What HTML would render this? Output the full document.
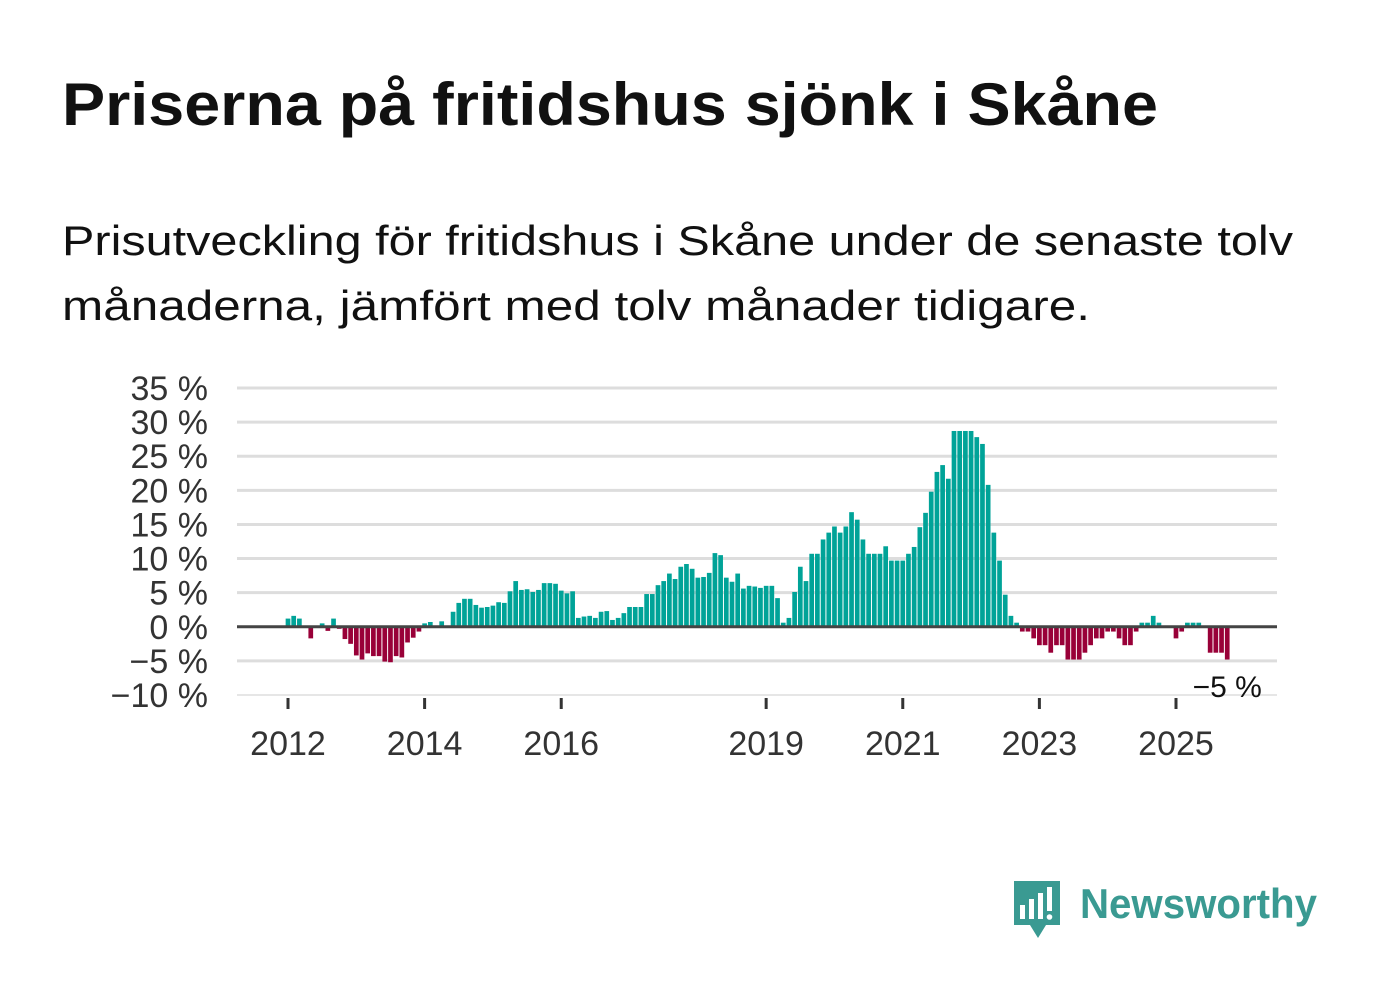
<!DOCTYPE html>
<html><head><meta charset="utf-8"><style>
html,body{margin:0;padding:0;background:#fff;}
svg{display:block;font-family:"Liberation Sans","Noto Sans CJK SC",sans-serif;}
</style></head><body>
<svg id="chart" width="1382" height="999" viewBox="0 0 1382 999" xmlns="http://www.w3.org/2000/svg">
<text x="62" y="125" font-size="60" font-weight="bold" fill="#111" textLength="1096" lengthAdjust="spacingAndGlyphs">Priserna på fritidshus sjönk i Skåne</text>
<text x="62" y="255" font-size="42" fill="#111" textLength="1231" lengthAdjust="spacingAndGlyphs">Prisutveckling för fritidshus i Skåne under de senaste tolv</text>
<text x="62" y="320" font-size="42" fill="#111" textLength="1028" lengthAdjust="spacingAndGlyphs">månaderna, jämfört med tolv månader tidigare.</text>
<g id="grid"></g>
<g id="bars"></g>
<g id="axes"></g>
<g>
<path d="M1014 881 h46 v44 h-14 l-8 13 l-8 -13 h-16 z" fill="#3a9a92"/>
<rect x="1020" y="905" width="5" height="14" fill="#fff"/>
<rect x="1029" y="899" width="5" height="20" fill="#fff"/>
<rect x="1038" y="893" width="5" height="26" fill="#fff"/>
<rect x="1047" y="887" width="5" height="24" fill="#fff"/>
<circle cx="1049.5" cy="917" r="2.8" fill="#fff"/>
<text x="1080" y="918" font-size="42" font-weight="bold" fill="#3a9a92" textLength="237" lengthAdjust="spacingAndGlyphs">Newsworthy</text>
</g>
</svg>
<script>
const values = [1.2,1.6,1.2,0,-1.7,0,0.5,-0.6,1.2,-0.3,-1.8,-2.5,
-4.2,-4.8,-3.9,-4.3,-4.3,-5.1,-5.2,-4.3,-4.5,-2.3,-1.6,-0.7,
0.5,0.7,0,0.8,0,2.2,3.5,4.1,4.1,3.2,2.8,2.9,
3.1,3.6,3.5,5.2,6.7,5.4,5.5,5.1,5.4,6.4,6.4,6.3,
5.3,4.9,5.2,1.3,1.5,1.6,1.3,2.2,2.3,1.0,1.3,2.0,
2.9,2.9,2.9,4.8,4.8,6.1,6.7,7.8,7.0,8.8,9.2,8.5,
7.2,7.3,7.9,10.8,10.5,7.2,6.6,7.8,5.6,6.0,5.9,5.7,
6.0,6.0,4.2,0.6,1.3,5.1,8.8,6.7,10.7,10.7,12.8,13.8,
14.7,13.8,14.7,16.8,15.7,12.8,10.7,10.7,10.7,11.8,9.7,9.7,
9.7,10.7,11.7,14.6,16.7,19.8,22.7,23.7,21.7,28.7,28.7,28.7,
28.7,27.8,26.8,20.8,13.8,9.7,4.7,1.6,0.6,-0.7,-0.7,-1.7,
-2.7,-2.7,-3.8,-2.7,-2.7,-4.8,-4.8,-4.8,-3.8,-2.7,-1.7,-1.7,
-0.7,-0.7,-1.7,-2.7,-2.7,-0.7,0.6,0.6,1.6,0.6,0,0,
-1.7,-0.7,0.6,0.6,0.6,0,-3.8,-3.8,-3.8,-4.8];
const startYear = 2012;
const yTicks = [35,30,25,20,15,10,5,0,-5,-10];
const yTickLabels = ["35 %","30 %","25 %","20 %","15 %","10 %","5 %","0 %","\u22125 %","\u221210 %"];
const xTickYears = [2012,2014,2016,2019,2021,2023,2025];
const lastLabel = "\u22125 %";

const NS="http://www.w3.org/2000/svg";
const x0=237,x1=1277,y0=695,y1=388;
function yS(v){return y0+(v-(-10))*(y1-y0)/45;}
function xS(m){return 288+m*(1176-288)/156;}
function mk(tag,attrs,parent){const e=document.createElementNS(NS,tag);for(const k in attrs)e.setAttribute(k,attrs[k]);parent.appendChild(e);return e;}
const grid=document.getElementById('grid'),bars=document.getElementById('bars'),axes=document.getElementById('axes');
yTicks.forEach((t,i)=>{
  if(t!==0){const l=mk('line',{x1:x0,x2:x1,y1:yS(t),y2:yS(t),stroke:'#dddddd','stroke-width':t===-10?1.5:3},grid);
  
  }
  const tx=mk('text',{x:208,y:yS(t)+12,'text-anchor':'end','font-size':34,fill:'#333'},axes);
  tx.textContent=yTickLabels[i];
  
  
});
values.forEach((v,i)=>{
  const x=xS(i);
  const r=mk('rect',{x:x-2.35,width:4.7,y:v>=0?yS(v):yS(0),height:Math.abs(yS(v)-yS(0)),fill:v>=0?'#00a398':'#990038'},bars);
  
  
});
const z=mk('line',{x1:x0,x2:x1,y1:yS(0),y2:yS(0),stroke:'#444','stroke-width':3},axes);


xTickYears.forEach(yr=>{
  const x=xS((yr-startYear)*12);
  const t=mk('line',{x1:x,x2:x,y1:698,y2:709,stroke:'#333','stroke-width':3},axes);
  
  
  const tx=mk('text',{x:x,y:755,'text-anchor':'middle','font-size':34,fill:'#333'},axes);
  tx.textContent=String(yr);
  
  
});
const ll=mk('text',{x:xS(values.length-1),y:697,'text-anchor':'middle','font-size':30,fill:'#111'},axes);
ll.textContent=lastLabel;


</script>
</body></html>
